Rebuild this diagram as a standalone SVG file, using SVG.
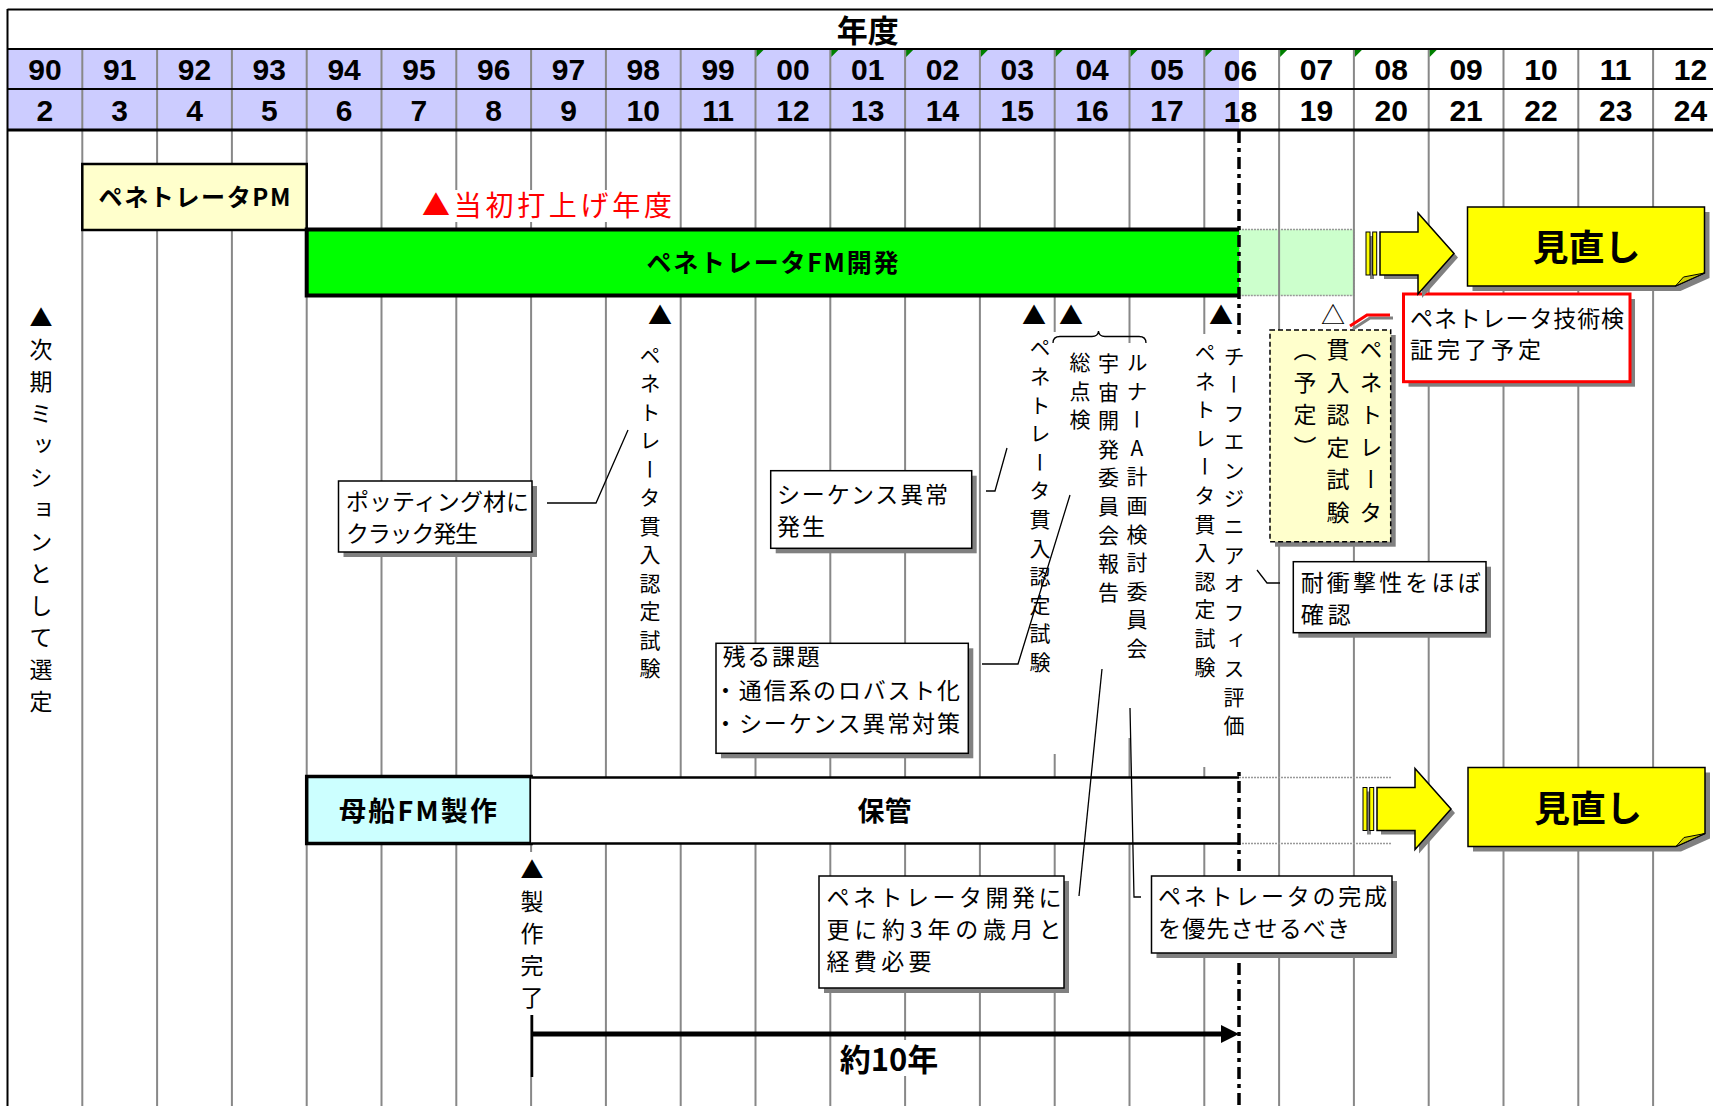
<svg xmlns="http://www.w3.org/2000/svg" width="1713" height="1106" viewBox="0 0 1713 1106">
<defs>
<style>
.jp{font-family:'Noto Sans CJK JP','Noto Sans',sans-serif;}
.num{font-family:'Liberation Sans',Arial,sans-serif;font-weight:bold;font-size:30px;text-anchor:middle;fill:#000;}
.grid{stroke:#888;stroke-width:2;fill:none;}
.vt{font-family:'Noto Sans CJK JP',sans-serif;writing-mode:vertical-rl;text-orientation:upright;fill:#000;}
.box{fill:#fff;stroke:#000;stroke-width:1.5;}
.shadow{fill:#808080;}
.con{fill:none;stroke:#000;stroke-width:1.3;}
.lbl{font-family:'Noto Sans CJK JP',sans-serif;font-size:23px;fill:#000;}
.bold{font-family:'Noto Sans CJK JP',sans-serif;font-weight:bold;fill:#000;text-anchor:middle;}
.tri{font-family:'Noto Sans CJK JP',sans-serif;font-size:24px;text-anchor:middle;fill:#000;}
.mask{fill:#fff;}
.gtri{fill:#008000;}
</style>
<g id="arrowShape">
<polygon points="-70,-17.5 -32,-17.5 -32,-36.5 4,4 -32,44.5 -32,25.5 -70,25.5" fill="#808080"/>
<rect x="-84" y="-17.5" width="4" height="43" fill="#808080"/>
<rect x="-88" y="-21.5" width="4" height="43" fill="#FFFF00" stroke="#000" stroke-width="1"/>
<rect x="-81.3" y="-21.5" width="4" height="43" fill="#FFFF00" stroke="#000" stroke-width="1"/>
<polygon points="-74,-21.5 -36,-21.5 -36,-40.5 0,0 -36,40.5 -36,21.5 -74,21.5" fill="#FFFF00" stroke="#000" stroke-width="1.5"/>
</g>
<g id="noteShape">
<path d="M5,5 H242 V71 L213,84 H5 Z" fill="#808080"/>
<path d="M0,0 H237 V66 L208,79 H0 Z" fill="#FFFF00" stroke="#000" stroke-width="1.5"/>
<path d="M237,66 L216,70 L208,79 Z" fill="#CCCC00" stroke="#000" stroke-width="1"/>
</g>
</defs>

<rect x="0" y="0" width="1713" height="1106" fill="#fff"/>

<g id="header-fills">
<rect x="7.5" y="49" width="1231.5" height="81" fill="#CCCCFF"/>
</g>
<rect id="fm-extension" x="1239" y="229.5" width="114.9" height="66" fill="#CCFFCC" stroke="#999" stroke-width="1.5" stroke-dasharray="2 1"/>

<g id="grid" class="grid">
<path d="M82.3,49V1106M157.1,49V1106M231.9,49V1106M306.7,49V1106M381.5,49V1106M456.3,49V1106M531.1,49V1106M605.9,49V1106M680.7,49V1106M755.5,49V1106M830.3,49V1106M905.1,49V1106M979.9,49V1106M1054.7,49V1106M1129.5,49V1106M1204.3,49V1106M1279.1,49V1106M1353.9,49V1106M1428.7,49V1106M1503.5,49V1106M1578.3,49V1106M1653.1,49V1106"/>
</g>

<g id="header-lines" stroke="#000" fill="none">
<path d="M7.5,9.5H1713M7.5,49H1713M7.5,89H1713" stroke-width="2.2"/>
<path d="M7.5,130H1713" stroke-width="3.2"/>
<path d="M7.5,9V1106" stroke-width="2"/>
</g>

<g id="header-flags" class="gtri">
<polygon points="756.5,50 763.5,50 756.5,57"/>
<polygon points="831.3,50 838.3,50 831.3,57"/>
<polygon points="906.1,50 913.1,50 906.1,57"/>
<polygon points="980.9,50 987.9,50 980.9,57"/>
<polygon points="1055.7,50 1062.7,50 1055.7,57"/>
<polygon points="1130.5,50 1137.5,50 1130.5,57"/>
<polygon points="1205.3,50 1212.3,50 1205.3,57"/>
<polygon points="1280.1,50 1287.1,50 1280.1,57"/>
<polygon points="1354.9,50 1361.9,50 1354.9,57"/>
<polygon points="1429.7,50 1436.7,50 1429.7,57"/>
</g>

<g id="header-title">
<text class="bold" x="867.7" y="42" font-size="31">年度</text>
</g>

<g id="header-years">
<text class="num" x="44.9" y="80">90</text>
<text class="num" x="119.7" y="80">91</text>
<text class="num" x="194.5" y="80">92</text>
<text class="num" x="269.3" y="80">93</text>
<text class="num" x="344.1" y="80">94</text>
<text class="num" x="418.9" y="80">95</text>
<text class="num" x="493.7" y="80">96</text>
<text class="num" x="568.5" y="80">97</text>
<text class="num" x="643.3" y="80">98</text>
<text class="num" x="718.1" y="80">99</text>
<text class="num" x="792.9" y="80">00</text>
<text class="num" x="867.7" y="80">01</text>
<text class="num" x="942.5" y="80">02</text>
<text class="num" x="1017.3" y="80">03</text>
<text class="num" x="1092.1" y="80">04</text>
<text class="num" x="1166.9" y="80">05</text>
<text class="num" x="1240.5" y="81">06</text>
<text class="num" x="1316.5" y="80">07</text>
<text class="num" x="1391.3" y="80">08</text>
<text class="num" x="1466.1" y="80">09</text>
<text class="num" x="1540.9" y="80">10</text>
<text class="num" x="1615.7" y="80">11</text>
<text class="num" x="1690.5" y="80">12</text>
</g>
<g id="header-heisei">
<text class="num" x="44.9" y="121">2</text>
<text class="num" x="119.7" y="121">3</text>
<text class="num" x="194.5" y="121">4</text>
<text class="num" x="269.3" y="121">5</text>
<text class="num" x="344.1" y="121">6</text>
<text class="num" x="418.9" y="121">7</text>
<text class="num" x="493.7" y="121">8</text>
<text class="num" x="568.5" y="121">9</text>
<text class="num" x="643.3" y="121">10</text>
<text class="num" x="718.1" y="121">11</text>
<text class="num" x="792.9" y="121">12</text>
<text class="num" x="867.7" y="121">13</text>
<text class="num" x="942.5" y="121">14</text>
<text class="num" x="1017.3" y="121">15</text>
<text class="num" x="1092.1" y="121">16</text>
<text class="num" x="1166.9" y="121">17</text>
<text class="num" x="1240.5" y="122">18</text>
<text class="num" x="1316.5" y="121">19</text>
<text class="num" x="1391.3" y="121">20</text>
<text class="num" x="1466.1" y="121">21</text>
<text class="num" x="1540.9" y="121">22</text>
<text class="num" x="1615.7" y="121">23</text>
<text class="num" x="1690.5" y="121">24</text>
</g>

<g id="node-pm">
<rect x="82.3" y="164" width="224.4" height="66" fill="#FFFFCC" stroke="#000" stroke-width="2.5"/>
<text class="bold" x="194.5" y="206" font-size="24" textLength="192" lengthAdjust="spacing">ペネトレータPM</text>
</g>

<g id="node-launch">
<rect class="mask" x="420" y="190" width="256" height="32"/>
<text class="jp" x="422" y="216" font-size="28" fill="#FF0000" textLength="250" lengthAdjust="spacing">▲当初打上げ年度</text>
</g>

<g id="node-fm">
<rect x="306.7" y="229.5" width="932.3" height="66" fill="#00FF00"/>
<path d="M1239,229.5H306.7V295.5H1239" fill="none" stroke="#000" stroke-width="4"/>
<text class="bold" x="772.5" y="272" font-size="25" textLength="252" lengthAdjust="spacing">ペネトレータFM開発</text>
</g>

<g id="node-mothership">
<rect x="306.7" y="776.5" width="224.4" height="67" fill="#CCFFFF" stroke="#000" stroke-width="3.5"/>
<text class="bold" x="418" y="821" font-size="27" textLength="158" lengthAdjust="spacing">母船FM製作</text>
</g>

<g id="node-storage">
<rect x="531.1" y="777" width="708" height="66" fill="#fff"/>
<path d="M531.1,777.5H1239M531.1,843.5H1239" stroke="#000" stroke-width="2.5" fill="none"/>
<path d="M1239,777.5H1391M1239,843.5H1391" stroke="#999" stroke-width="1.5" stroke-dasharray="2 1" fill="none"/>
<text class="bold" x="884.6" y="821" font-size="27">保管</text>
</g>

<g id="connectors">
<path d="M1239,131V1106" stroke="#000" stroke-width="3.5" stroke-dasharray="12 5 4 5" fill="none"/>
</g>

<g id="node-col04-masks">
<rect class="mask" x="1025" y="332" width="32" height="422"/>
<rect class="mask" x="1057" y="343" width="95" height="395"/>
<rect class="mask" x="1190" y="334" width="58" height="433"/>
<rect class="mask" x="519" y="852" width="26" height="163"/>
<rect class="mask" x="836" y="1040" width="110" height="36"/>
</g>

<g id="node-next-mission">
<text class="vt" x="41" y="306" style="font-size:23px;letter-spacing:9px">▲次期ミッションとして選定</text>
</g>

<g id="node-test98">
<text class="tri" x="660" y="324">▲</text>
<text class="vt" x="650" y="344.5" style="font-size:21px;letter-spacing:7.5px">ペネトレータ貫入認定試験</text>
</g>

<g id="node-test03">
<text class="tri" x="1034" y="324">▲</text>
<text class="vt" x="1040" y="337" style="font-size:21px;letter-spacing:7.6px">ペネトレータ貫入認定試験</text>
</g>

<g id="node-committee">
<text class="tri" x="1071" y="324">▲</text>
<path d="M1053,343 Q1053,336.5 1060,336.5 H1092 Q1098,336.5 1098.5,331 Q1099,336.5 1105,336.5 H1139 Q1146,336.5 1146,343" fill="none" stroke="#000" stroke-width="1.3"/>
<text class="vt" x="1137" y="351.5" style="font-size:21px;letter-spacing:7.6px">ルナーA計画検討委員会</text>
<text class="vt" x="1108.5" y="352.5" style="font-size:21px;letter-spacing:7.6px">宇宙開発委員会報告</text>
<text class="vt" x="1080" y="351.5" style="font-size:21px;letter-spacing:7.6px">総点検</text>
</g>

<g id="node-chief">
<text class="tri" x="1221" y="324">▲</text>
<text class="vt" x="1234" y="345.5" style="font-size:21px;letter-spacing:7.4px">チーフエンジニアオフィス評価</text>
<text class="vt" x="1205" y="341.5" style="font-size:21px;letter-spacing:7.6px">ペネトレータ貫入認定試験</text>
</g>

<g id="node-planned-test">
<text class="tri" x="1333" y="324">△</text>
<rect class="shadow" x="1275" y="335" width="120.7" height="211.7"/>
<rect x="1270" y="330" width="120.7" height="211.7" fill="#FFFFCC" stroke="#000" stroke-width="1.5" stroke-dasharray="5 3"/>
<text class="vt" x="1371" y="338" style="font-size:23px;letter-spacing:9.5px">ペネトレータ</text>
<text class="vt" x="1338" y="338" style="font-size:23px;letter-spacing:9.5px">貫入認定試験</text>
<text class="vt" x="1305" y="338" style="font-size:23px;letter-spacing:9.5px">（予定）</text>
</g>

<g id="node-fabricated">
<text class="vt" x="532" y="857.5" style="font-size:23px;letter-spacing:9px">▲製作完了</text>
</g>

<g id="node-crack">
<rect class="shadow" x="343.5" y="486" width="193.5" height="71"/>
<rect class="box" x="338.5" y="481" width="193.5" height="71"/>
<text class="lbl" font-size="22.5"><tspan x="346" y="509.5" textLength="183" lengthAdjust="spacing">ポッティング材に</tspan><tspan x="346" y="541.5" textLength="132" lengthAdjust="spacing">クラック発生</tspan></text>
</g>

<g id="node-sequence">
<rect class="shadow" x="775.7" y="475.7" width="201" height="77.6"/>
<rect class="box" x="770.7" y="470.7" width="201" height="77.6"/>
<text class="lbl"><tspan x="777" y="502.5" textLength="171" lengthAdjust="spacing">シーケンス異常</tspan><tspan x="777" y="534.5" textLength="48" lengthAdjust="spacing">発生</tspan></text>
</g>

<g id="node-issues">
<rect class="shadow" x="721" y="648.3" width="252.3" height="110"/>
<rect class="box" x="716" y="643.3" width="252.3" height="110"/>
<text class="lbl" font-size="23.5"><tspan x="722.7" y="665" textLength="97" lengthAdjust="spacing">残る課題</tspan><tspan x="714" y="698.5" textLength="246" lengthAdjust="spacing">・通信系のロバスト化</tspan><tspan x="714" y="731.5" textLength="246" lengthAdjust="spacing">・シーケンス異常対策</tspan></text>
</g>

<g id="node-three-years">
<rect class="shadow" x="824" y="881" width="245" height="112"/>
<rect class="box" x="819" y="876" width="245" height="112"/>
<text class="lbl"><tspan x="826.5" y="905.5" textLength="235" lengthAdjust="spacing">ペネトレータ開発に</tspan><tspan x="826.5" y="937.5" textLength="235" lengthAdjust="spacing">更に約3年の歳月と</tspan><tspan x="826.5" y="969.5" textLength="105" lengthAdjust="spacing">経費必要</tspan></text>
</g>

<g id="node-priority">
<rect class="shadow" x="1156.5" y="881" width="240.5" height="77"/>
<rect class="box" x="1151.5" y="876" width="240.5" height="77"/>
<text class="lbl"><tspan x="1158" y="905" textLength="229" lengthAdjust="spacing">ペネトレータの完成</tspan><tspan x="1158" y="937" textLength="192" lengthAdjust="spacing">を優先させるべき</tspan></text>
</g>

<g id="node-impact">
<rect class="shadow" x="1298.3" y="566.7" width="192.7" height="71"/>
<rect class="box" x="1293.3" y="561.7" width="192.7" height="71"/>
<text class="lbl"><tspan x="1300.7" y="590.5" textLength="180" lengthAdjust="spacing">耐衝撃性をほぼ</tspan><tspan x="1300.7" y="622.5" textLength="50" lengthAdjust="spacing">確認</tspan></text>
</g>

<g id="node-tech-verify">
<rect class="shadow" x="1408.5" y="299" width="226.5" height="87.7"/>
<rect x="1403.5" y="294" width="226.5" height="87.7" fill="#fff" stroke="#FF0000" stroke-width="3"/>
<text class="lbl" font-size="22"><tspan x="1410" y="326.5" textLength="214" lengthAdjust="spacing">ペネトレータ技術検</tspan><tspan x="1410" y="357.5" textLength="131" lengthAdjust="spacing">証完了予定</tspan></text>
</g>

<g id="callout-lines">
<path class="con" d="M547,503 H596 L628,430"/>
<path class="con" d="M986,491 H995 L1007,448"/>
<path class="con" d="M982,664 H1018 L1070,495"/>
<path class="con" d="M1079,896 L1102,669"/>
<path class="con" d="M1130,708 L1134,897 H1141"/>
<path class="con" d="M1257,570 L1267,583 H1280"/>
<path d="M1393,318 H1370 L1353,329" fill="none" stroke="#808080" stroke-width="3"/>
<path d="M1390,315 H1367 L1350,326" fill="none" stroke="#FF0000" stroke-width="3"/>
</g>

<g id="node-ten-years">
<path d="M532,1015V1077" stroke="#000" stroke-width="2.5"/>
<path d="M532,1034H1223" stroke="#000" stroke-width="5"/>
<polygon points="1221,1025 1239,1034 1221,1043" fill="#000"/>
<text class="bold" x="889" y="1071" font-size="31">約10年</text>
</g>

<g id="node-arrow1"><use href="#arrowShape" x="1454" y="253.5"/></g>
<g id="node-review1">
<use href="#noteShape" x="1467.5" y="207"/>
<text class="bold" x="1586.5" y="261" font-size="36">見直し</text>
</g>
<g id="node-arrow2"><use href="#arrowShape" x="1451" y="809"/></g>
<g id="node-review2">
<use href="#noteShape" x="1468" y="767.5"/>
<text class="bold" x="1588" y="821.5" font-size="36">見直し</text>
</g>
</svg>
